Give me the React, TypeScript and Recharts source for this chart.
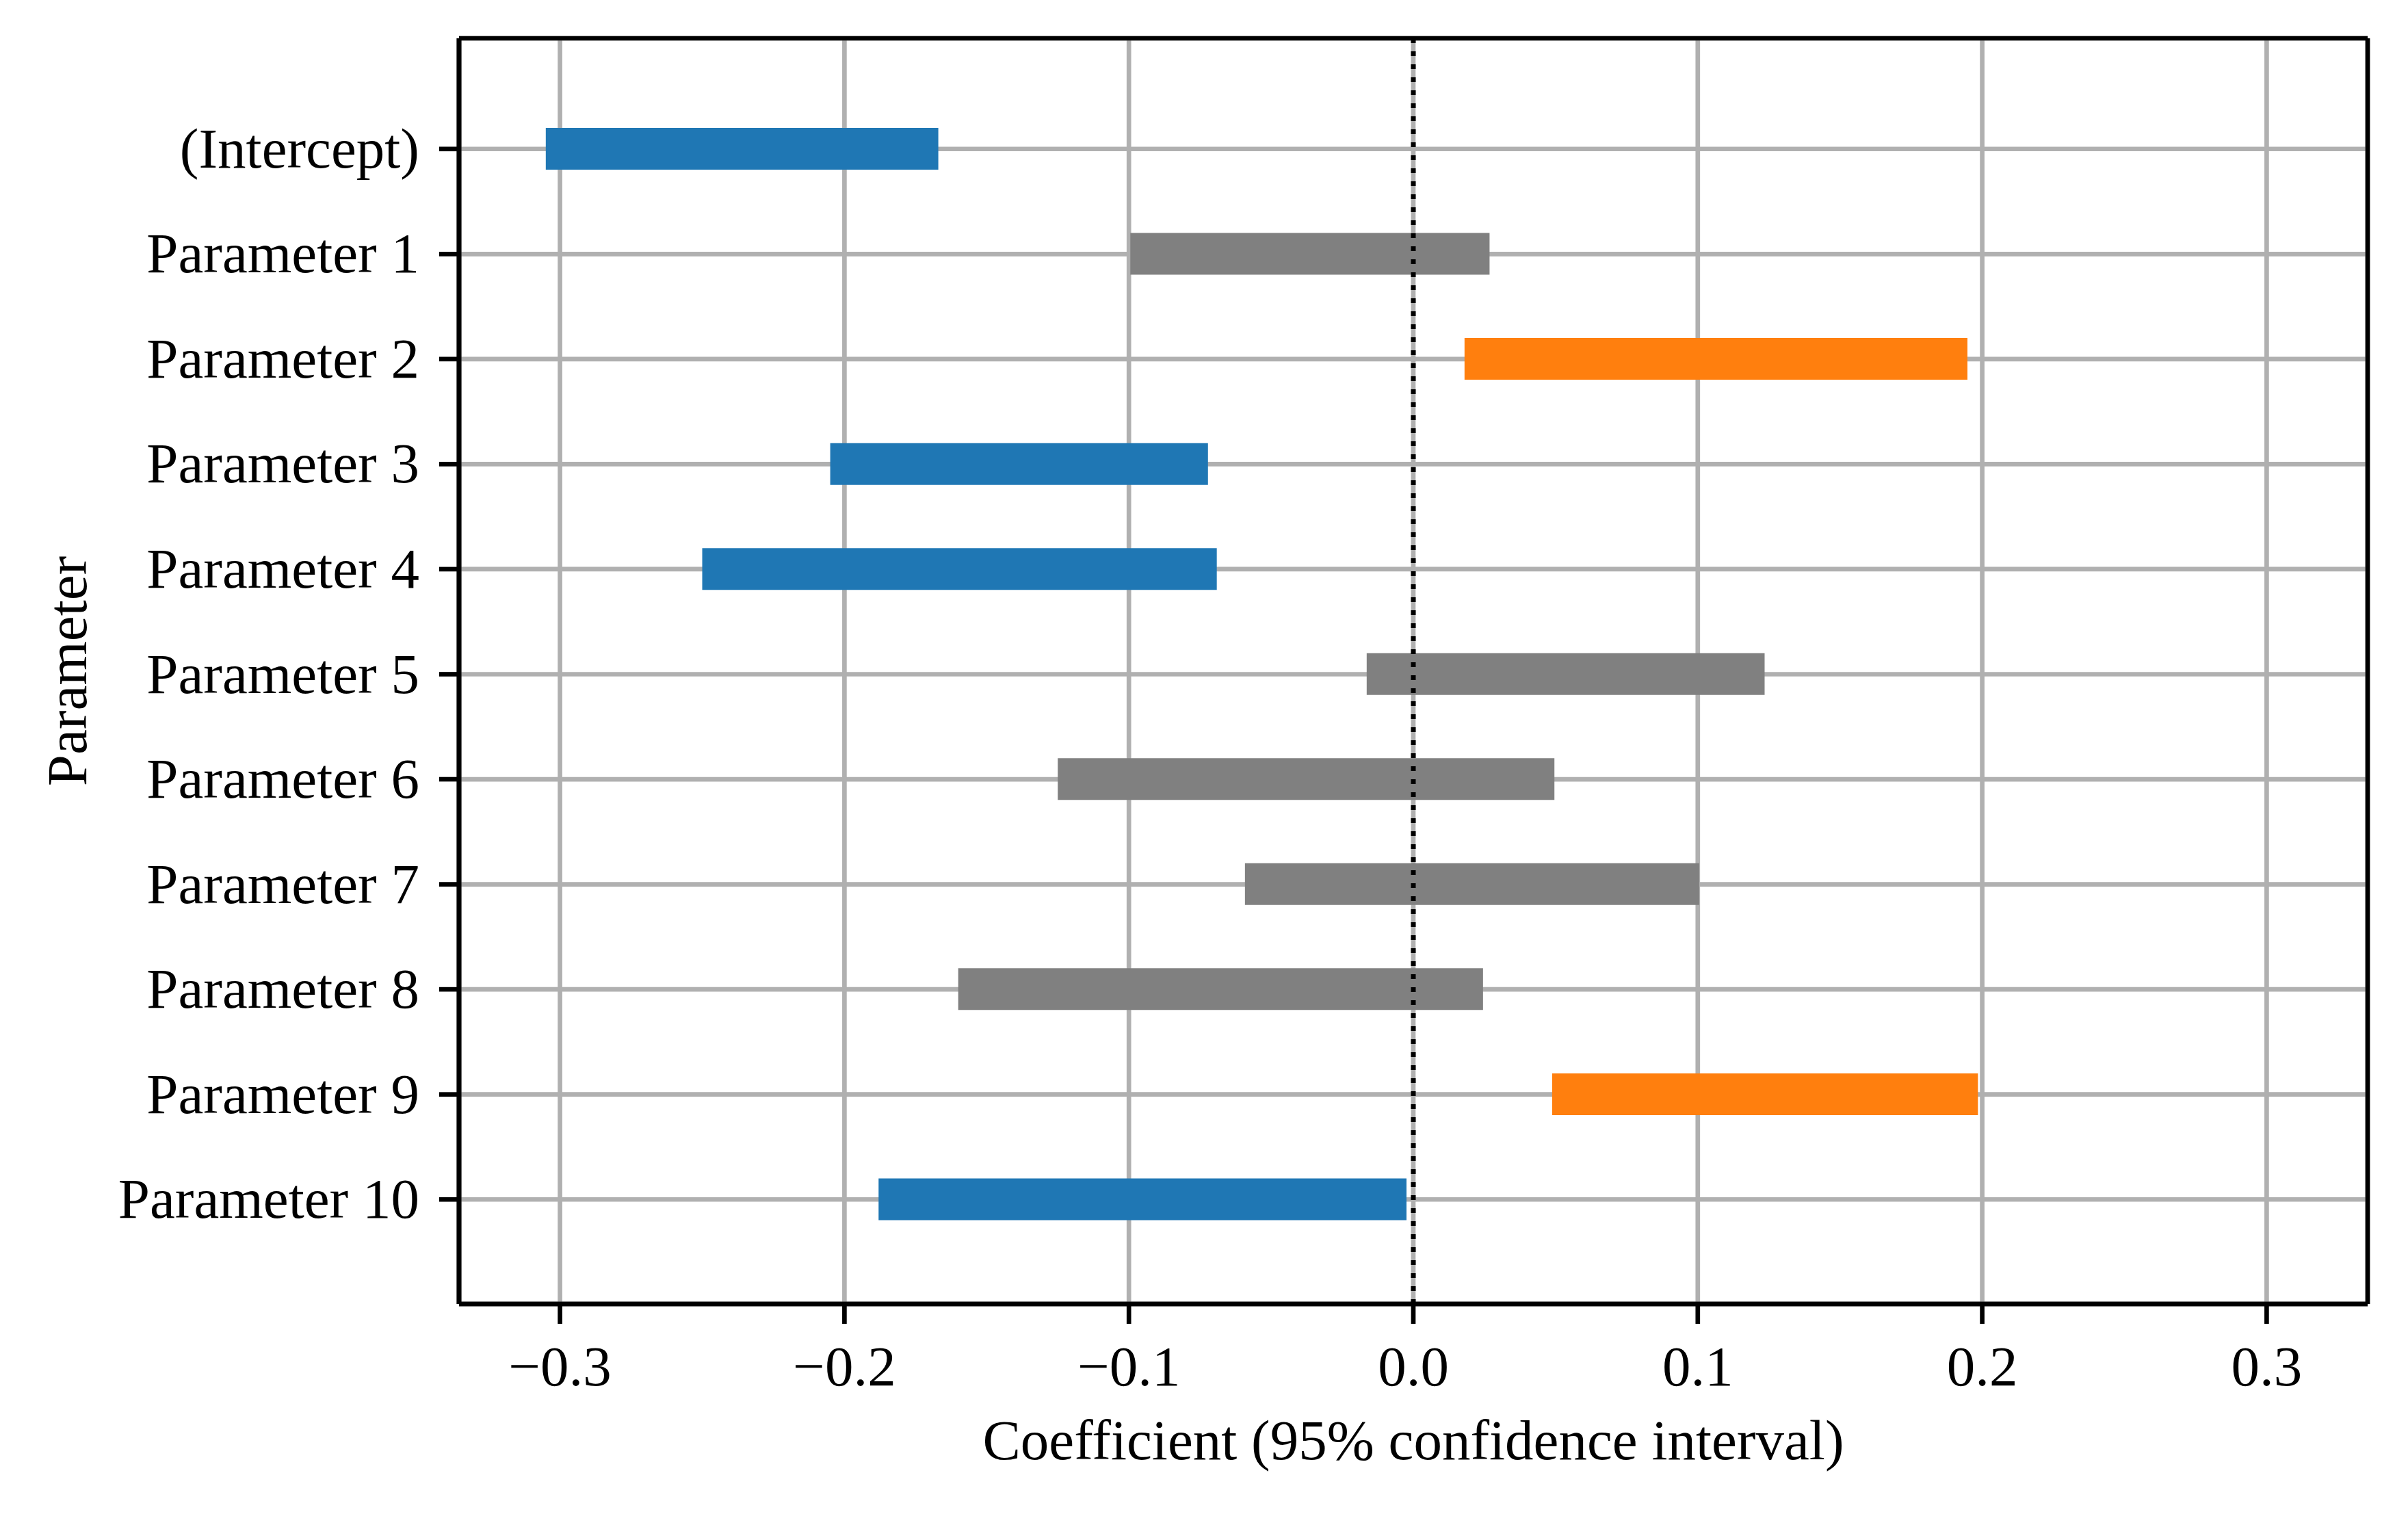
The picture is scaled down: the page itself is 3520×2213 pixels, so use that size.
import React from 'react';
import { BarChart, Bar, XAxis, YAxis, CartesianGrid, ReferenceLine, Cell, Label } from 'recharts';

const params = [
  '(Intercept)', 'Parameter 1', 'Parameter 2', 'Parameter 3', 'Parameter 4', 'Parameter 5',
  'Parameter 6', 'Parameter 7', 'Parameter 8', 'Parameter 9', 'Parameter 10',
];
const lower = [-0.305, -0.0995, 0.018, -0.205, -0.250, -0.0164, -0.125, -0.0592, -0.160, 0.0488, -0.188];
const upper = [-0.167, 0.0268, 0.1948, -0.0722, -0.0691, 0.1235, 0.0496, 0.1005, 0.0245, 0.1985, -0.0024];
const xTicks = [-0.3, -0.2, -0.1, 0.0, 0.1, 0.2, 0.3];
const xDomain = [-0.3355, 0.3355];

const BLUE = '#1f77b4';
const ORANGE = '#ff7f0e';
const GRAY = '#808080';
const FONT = '"Liberation Serif", "Times New Roman", serif';
const LW = 6.67;

const data = params.map((name, i) => ({ name, ci: [lower[i], upper[i]] }));
const barColor = (lo: number, hi: number) => (hi < 0 ? BLUE : lo > 0 ? ORANGE : GRAY);

const fmt = (v: number) => (v < 0 ? '\u2212' : '') + Math.abs(v).toFixed(1);

const XTick = (props: any) => (
  <text x={props.x} y={props.y + 61} textAnchor="middle" fontFamily={FONT} fontSize={83} fill="#000">
    {fmt(props.payload.value)}
  </text>
);

const YTick = (props: any) => (
  <text x={props.x} y={props.y + 27} textAnchor="end" fontFamily={FONT} fontSize={83} fill="#000">
    {props.payload.value}
  </text>
);

const XLabel = (props: any) => {
  const vb = props.viewBox;
  return (
    <text x={vb.x + vb.width / 2} y={2133} textAnchor="middle" fontFamily={FONT} fontSize={83} fill="#000">
      Coefficient (95% confidence interval)
    </text>
  );
};

const YLabel = (props: any) => {
  const vb = props.viewBox;
  const cy = vb.y + vb.height / 2;
  return (
    <text x={126} y={cy} transform={`rotate(-90 126 ${cy})`} textAnchor="middle" fontFamily={FONT} fontSize={83} fill="#000">
      Parameter
    </text>
  );
};

// frame lines at the plot edges (top/bottom, left/right spines)
const edgeRows = ({ offset }: any) => [offset.top, offset.top + offset.height];
const edgeCols = ({ offset }: any) => [offset.left, offset.left + offset.width];

export default function App() {
  return (
    <div style={{ position: 'absolute', left: 0, top: 0, width: 3520, height: 2213, background: '#fff' }}>
      <BarChart
        width={3520}
        height={2213}
        data={data}
        layout="vertical"
        margin={{ top: 56, right: 59, bottom: 0, left: 0 }}
      >
        <CartesianGrid stroke="#b0b0b0" strokeWidth={LW} />
        <CartesianGrid
          stroke="#000"
          strokeWidth={LW}
          horizontalCoordinatesGenerator={edgeRows}
          verticalCoordinatesGenerator={edgeCols}
        />
        <XAxis
          type="number"
          domain={xDomain}
          allowDataOverflow
          ticks={xTicks}
          height={307}
          tickSize={29}
          tickMargin={29}
          tick={<XTick />}
          tickLine={{ stroke: '#000', strokeWidth: LW }}
          axisLine={{ stroke: '#000', strokeWidth: LW }}
        >
          <Label content={<XLabel />} />
        </XAxis>
        <YAxis
          type="category"
          dataKey="name"
          width={671}
          padding={{ top: 85, bottom: 76 }}
          tickSize={29}
          tickMargin={29}
          tick={<YTick />}
          tickLine={{ stroke: '#000', strokeWidth: LW }}
          axisLine={{ stroke: '#000', strokeWidth: LW }}
          interval={0}
        >
          <Label content={<YLabel />} />
        </YAxis>
        <Bar dataKey="ci" barSize={61} isAnimationActive={false}>
          {data.map((d, i) => (
            <Cell key={i} fill={barColor(d.ci[0], d.ci[1])} />
          ))}
        </Bar>
        <ReferenceLine x={0} stroke="#000" strokeWidth={7} strokeDasharray="7 12" />
      </BarChart>
    </div>
  );
}
